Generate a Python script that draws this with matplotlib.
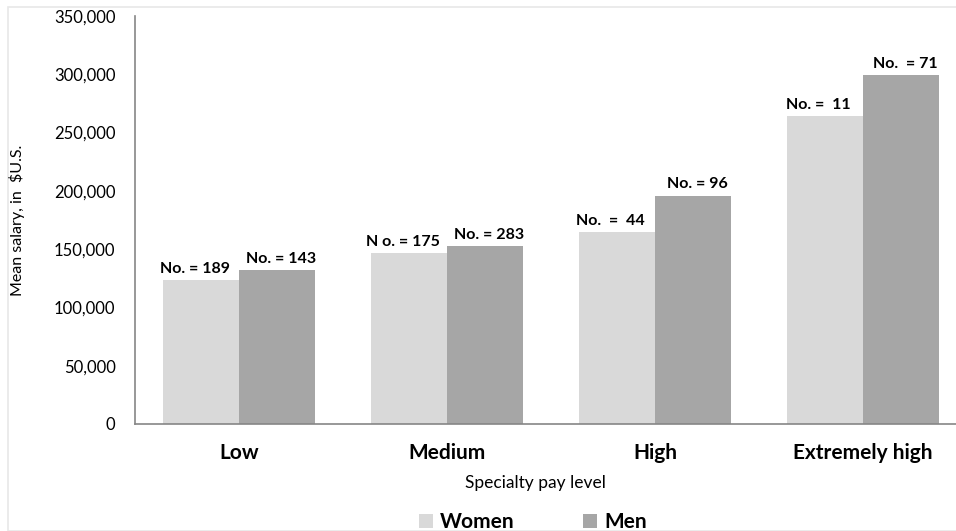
import matplotlib.pyplot as plt
import matplotlib.patches as mpatches
import numpy as np

plt.rcParams['font.family'] = ['Lato', 'DejaVu Sans']

categories = ['Low', 'Medium', 'High', 'Extremely high']
women = [123500, 146500, 165000, 264500]
men = [132000, 152500, 196000, 299000]
women_n = ['No. = 189', 'N o. = 175', 'No.  =  44', 'No. =  11']
men_n = ['No. = 143', 'No. = 283', 'No. = 96', 'No.  = 71']
yticks = [0, 50000, 100000, 150000, 200000, 250000, 300000, 350000]

c_women = '#d9d9d9'
c_men = '#a6a6a6'

fig = plt.figure(figsize=(9.56, 5.31), dpi=100)
ax = fig.add_axes([135/956, 107/531, 1 - 135/956, (424-16)/531])

x = np.arange(len(categories))
w = 0.365
bw = ax.bar(x - w/2, women, w, color=c_women, label='Women')
bm = ax.bar(x + w/2, men, w, color=c_men, label='Men')

for xi, v, t in zip(x - w/2, women, women_n):
    ax.text(xi - 0.03, v + 3500, t, ha='center', va='bottom', fontsize=11.5, fontweight='bold')
for xi, v, t in zip(x + w/2, men, men_n):
    ax.text(xi + 0.02, v + 3500, t, ha='center', va='bottom', fontsize=11.5, fontweight='bold')

ax.set_ylim(0, 350000)
ax.set_xlim(-0.5, -0.5 + (956-135)/208)
ax.set_yticks(yticks)
ax.set_yticklabels([f'{v:,}' for v in yticks], fontsize=12)
ax.set_xticks(x)
ax.set_xticklabels(categories, fontsize=15, fontweight='bold')
ax.tick_params(axis='both', length=0)
ax.tick_params(axis='y', pad=14)
ax.tick_params(axis='x', pad=14)
for s in ['top', 'right']:
    ax.spines[s].set_visible(False)
for s in ['left', 'bottom']:
    ax.spines[s].set_color('#868686')
    ax.spines[s].set_linewidth(1.2)

fig.text(535/956, 1 - 483/531, 'Specialty pay level', ha='center', va='center', fontsize=12.5)
fig.text(17/956, 1 - 220/531, 'Mean salary, in  $U.S.', ha='center', va='center',
         rotation=90, fontsize=11.5)

fig.legend(handles=[bw, bm], loc='center', bbox_to_anchor=(533/956, 1 - 522/531),
           ncol=2, frameon=False, prop={'weight': 'bold', 'size': 15},
           handlelength=0.65, handleheight=0.65, handletextpad=0.35, columnspacing=3.3)

fig.patches.append(mpatches.Rectangle((8/956, 0), 1, 1 - 7/531, transform=fig.transFigure,
                                      fill=False, edgecolor='#e8e8e8', linewidth=1.2))

fig.savefig('out.png', dpi=100)
